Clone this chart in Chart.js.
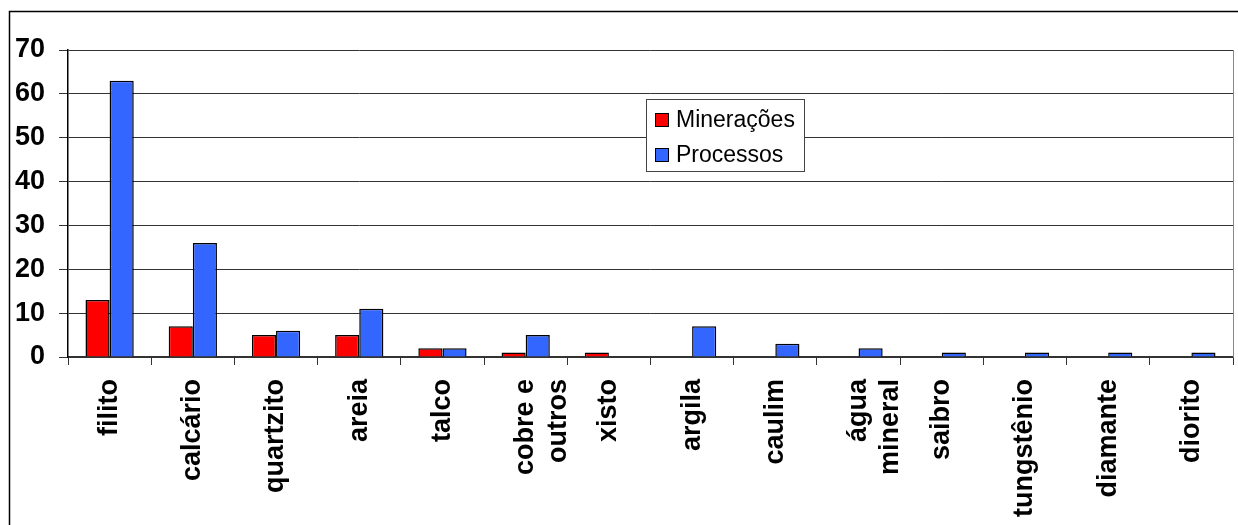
<!DOCTYPE html>
<html>
<head>
<meta charset="utf-8">
<script src="https://cdn.jsdelivr.net/npm/chart.js@4.4.1/dist/chart.umd.min.js"></script>
<style>
  html, body { margin: 0; padding: 0; background: #fff; }
  #wrap { width: 1238px; height: 525px; position: relative; }
</style>
</head>
<body>
<div id="wrap"><canvas id="chart"></canvas></div>
<script>
// =============== Daten ===============
const categories = [
  'filito', 'calcário', 'quartzito', 'areia', 'talco', ['cobre e', 'outros'], 'xisto',
  'argila', 'caulim', ['água', 'mineral'], 'saibro', 'tungstênio', 'diamante', 'diorito'
];
const mineracoes = [13, 7, 5, 5, 2, 1, 1, 0, 0, 0, 0, 0, 0, 0];
const processos = [63, 26, 6, 11, 2, 5, 0, 7, 3, 2, 1, 1, 1, 1];
const yTicks = [0, 10, 20, 30, 40, 50, 60, 70];

const FONT = "'Liberation Sans', Arial, sans-serif";

// Rahmen + Legende im Plotbereich
const framePlugin = {
  id: 'frame',
  afterDraw(chart) {
    const ctx = chart.ctx;
    const area = chart.chartArea;
    ctx.save();
    // Plotbereich rechts
    ctx.strokeStyle = '#888';
    ctx.lineWidth = 1;
    ctx.beginPath();
    ctx.moveTo(area.right + 0.5, area.top);
    ctx.lineTo(area.right + 0.5, area.bottom);
    ctx.stroke();
    // äusserer Rahmen
    ctx.strokeStyle = '#000';
    ctx.lineWidth = 1.5;
    ctx.strokeRect(9.5, 11.5, 1400, 700);

    // Legende
    const bx = 646, by = 99, bw = 158, bh = 72;
    ctx.fillStyle = '#fff';
    ctx.fillRect(bx, by, bw, bh);
    ctx.strokeStyle = '#444';
    ctx.lineWidth = 1;
    ctx.strokeRect(bx + 0.5, by + 0.5, bw, bh);
    ctx.font = '23px ' + FONT;
    ctx.textBaseline = 'middle';
    chart.data.datasets.forEach((ds, i) => {
      const cy = by + 21 + i * 35;
      ctx.fillStyle = ds.backgroundColor;
      ctx.fillRect(bx + 9, cy - 7, 14, 14);
      ctx.strokeStyle = '#000';
      ctx.strokeRect(bx + 9.5, cy - 6.5, 13, 13);
      ctx.fillStyle = '#000';
      ctx.fillText(ds.label, bx + 30, cy + 1);
    });
    ctx.restore();
  }
};

new Chart(document.getElementById('chart'), {
  type: 'bar',
  data: {
    labels: categories,
    datasets: [
      {
        label: 'Minerações',
        data: mineracoes,
        backgroundColor: '#FF0000',
        borderColor: '#000',
        borderWidth: 1.5,
        categoryPercentage: 0.58,
        barPercentage: 1.0,
      },
      {
        label: 'Processos',
        data: processos,
        backgroundColor: '#3366FF',
        borderColor: '#000',
        borderWidth: 1.5,
        categoryPercentage: 0.58,
        barPercentage: 1.0,
      },
    ],
  },
  options: {
    responsive: true,
    maintainAspectRatio: false,
    animation: false,
    layout: { padding: { top: 50, right: 5, left: 0, bottom: 0 } },
    plugins: {
      legend: { display: false },
      tooltip: { enabled: false },
    },
    scales: {
      x: {
        grid: { offset: true, drawOnChartArea: false, drawTicks: true, tickLength: 8, color: '#333' },
        border: { color: '#333', width: 1.5 },
        ticks: {
          autoSkip: false,
          minRotation: 90,
          maxRotation: 90,
          padding: 14,
          color: '#000',
          font: { family: FONT, size: 27, weight: 'bold' },
        },
        afterFit(scale) { scale.height = 168; },
      },
      y: {
        min: 0,
        max: 70,
        afterBuildTicks(scale) { scale.ticks = yTicks.map((v) => ({ value: v })); },
        grid: { color: '#333', tickLength: 9, lineWidth: 1 },
        border: { color: '#000', width: 1.5 },
        ticks: {
          padding: 14,
          color: '#000',
          font: { family: FONT, size: 27, weight: 'bold' },
        },
        afterFit(scale) { scale.width = 68; },
      },
    },
  },
  plugins: [framePlugin],
});
</script>
</body>
</html>
